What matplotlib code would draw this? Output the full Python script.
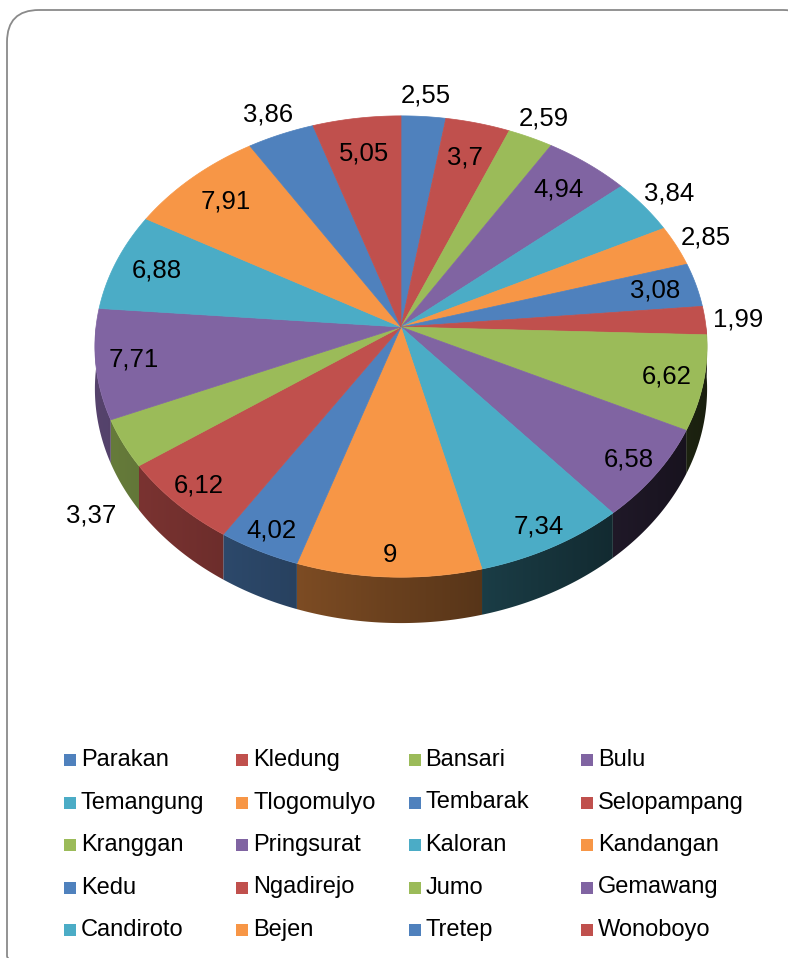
import matplotlib
matplotlib.use("Agg")
import matplotlib.pyplot as plt
import numpy as np
from matplotlib.patches import Polygon, FancyBboxPatch, Rectangle

# data
kecamatan = [
    "Parakan", "Kledung", "Bansari", "Bulu", "Temangung", "Tlogomulyo",
    "Tembarak", "Selopampang", "Kranggan", "Pringsurat", "Kaloran", "Kandangan",
    "Kedu", "Ngadirejo", "Jumo", "Gemawang", "Candiroto", "Bejen", "Tretep", "Wonoboyo",
]
persen = [2.55, 3.7, 2.59, 4.94, 3.84, 2.85, 3.08, 1.99, 6.62, 6.58,
          7.34, 9, 4.02, 6.12, 3.37, 7.71, 6.88, 7.91, 3.86, 5.05]

# Office 2007 palette, repeats every 6 slices
palette = ["#4F81BD", "#C0504D", "#9BBB59", "#8064A2", "#4BACC6", "#F79646"]
colors = [palette[i % 6] for i in range(len(persen))]

# labels drawn outside the pie (small slices)
outside_labels = {0, 2, 4, 5, 7, 14, 18}

# pie geometry in pixels (perspective-tilted disk)
W, H = 788, 958
cx, cy = 401, 327
rx, ry = 305, 229
persp = 0.0847
depth = 42
font = ["Liberation Sans", "DejaVu Sans"]


def proj(theta, r=1.0, z=0.0):
    """theta in radians, clockwise from 12 o'clock."""
    u = r * np.sin(theta)
    v = r * np.cos(theta)
    d = 1 + persp * v
    return cx + rx * u / d, cy - ry * v / d + z * depth / d


fig = plt.figure(figsize=(W / 100, H / 100), dpi=100)
ax = fig.add_axes([0, 0, 1, 1])
ax.set_xlim(0, W)
ax.set_ylim(H, 0)
ax.axis("off")

# rounded chart border
ax.add_patch(FancyBboxPatch((7, 10), W + 20, H + 20,
                            boxstyle="round,pad=0,rounding_size=32",
                            fill=False, edgecolor="#8a8a8a", linewidth=1.3))

total = sum(persen)
bounds = np.concatenate([[0], np.cumsum(persen)]) / total * 2 * np.pi

# side walls (front half only), shaded darker towards the right
for i in range(len(persen)):
    a0, a1 = max(bounds[i], np.pi / 2), min(bounds[i + 1], 3 * np.pi / 2)
    if a1 <= a0:
        continue
    ts = np.linspace(a0, a1, 80)
    pts = [proj(t) for t in ts] + [proj(t, z=1) for t in ts[::-1]]
    poly = Polygon(pts, closed=True, facecolor="none", edgecolor="none")
    ax.add_patch(poly)
    xs = np.array([p[0] for p in pts])
    ys = np.array([p[1] for p in pts])
    x_lo, x_hi = xs.min() - 2, xs.max() + 2
    gx = np.linspace(x_lo, x_hi, 200)
    f = 0.42 - 0.25 * (gx - cx) / rx
    rgb = np.array(matplotlib.colors.to_rgb(colors[i]))
    img = np.clip(f[None, :, None] * rgb[None, None, :], 0, 1)
    im = ax.imshow(img, extent=(x_lo, x_hi, ys.max() + 2, ys.min() - 2),
                   aspect="auto", interpolation="bilinear", zorder=1)
    im.set_clip_path(poly)

# top surfaces
for i in range(len(persen)):
    ts = np.linspace(bounds[i], bounds[i + 1], 60)
    pts = [(cx, cy)] + [proj(t) for t in ts]
    ax.add_patch(Polygon(pts, closed=True, facecolor=colors[i],
                         edgecolor=colors[i], linewidth=0.5, zorder=2))

# data labels
for i, val in enumerate(persen):
    tm = 0.5 * (bounds[i] + bounds[i + 1])
    txt = f"{val:g}".replace(".", ",")
    if i in outside_labels:
        x, y = proj(tm, 1.11)
        if np.cos(tm) < 0:
            y += depth * 1.4
    else:
        x, y = proj(tm, 0.87 - 0.05 * np.cos(tm))
    ax.text(x, y, txt, fontsize=18.5, family=font, color="black",
            ha="center", va="center", zorder=3)

# legend, row-major in four columns
for i, name in enumerate(kecamatan):
    row, col = divmod(i, 4)
    x0 = 64 + col * 172.3
    y0 = 760 + row * 42.5
    ax.add_patch(Rectangle((x0, y0 - 6), 12, 12, facecolor=colors[i], edgecolor="none"))
    ax.text(x0 + 17, y0, name, fontsize=17, family=font, color="black",
            ha="left", va="center")

ax.set_xlim(0, W)
ax.set_ylim(H, 0)
fig.savefig("out.png", dpi=100)
